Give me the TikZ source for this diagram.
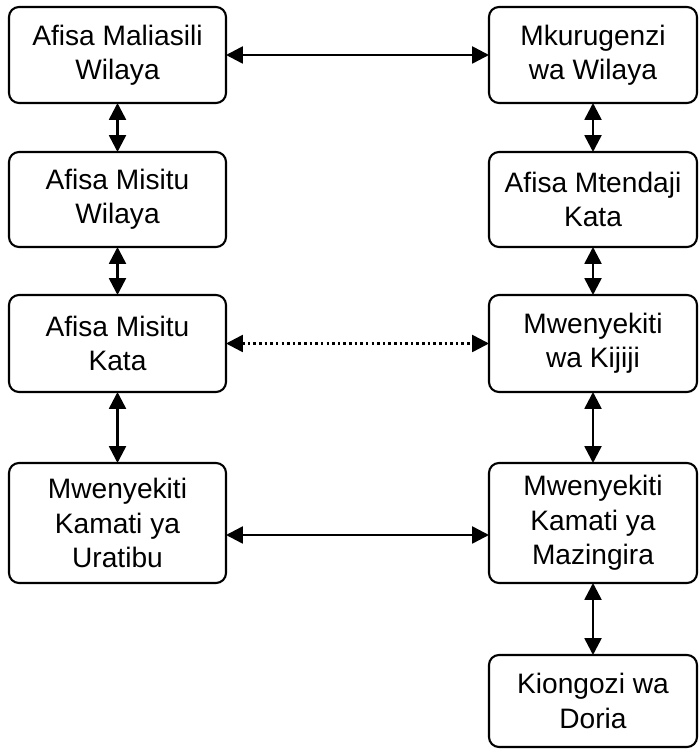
\documentclass[tikz,border=0pt]{standalone}
\usepackage{fontspec}
\setmainfont{Liberation Sans}
\usetikzlibrary{arrows.meta}
\usetikzlibrary{positioning}
\begin{document}
\begin{tikzpicture}[box/.style={draw=black,line width=1.5pt,rounded corners=0.25cm,align=center,inner sep=0pt,outer sep=0pt,font=\fontsize{20}{24.5}\selectfont},
link/.style={line width=1.8pt,{Triangle[length=0.42cm,width=0.42cm]}-{Triangle[length=0.42cm,width=0.42cm]}}]
\useasboundingbox (0,0) rectangle (17.45,18.725);
\node[box,minimum width=5.425cm,minimum height=2.4cm] (AMW) at (2.9375,17.35) {Afisa Maliasili\\Wilaya};
\node[box,minimum width=5.425cm,minimum height=2.375cm] (AMsW) at (2.9375,13.7375) {Afisa Misitu\\Wilaya};
\node[box,minimum width=5.425cm,minimum height=2.425cm] (AMK) at (2.9375,10.1375) {Afisa Misitu\\Kata};
\node[box,minimum width=5.425cm,minimum height=3.0cm] (MKU) at (2.9375,5.65) {Mwenyekiti\\Kamati ya\\Uratibu};

\node[box,minimum width=5.2cm,minimum height=2.4cm] (MWi) at (14.825,17.35) {Mkurugenzi\\wa Wilaya};
\node[box,minimum width=5.2cm,minimum height=2.375cm] (AMtK) at (14.825,13.7375) {Afisa Mtendaji\\Kata};
\node[box,minimum width=5.2cm,minimum height=2.425cm] (MKi) at (14.825,10.1375) {Mwenyekiti\\wa Kijiji};
\node[box,minimum width=5.2cm,minimum height=3.0cm] (MKM) at (14.825,5.65) {Mwenyekiti\\Kamati ya\\Mazingira};
\node[box,minimum width=5.2cm,minimum height=2.3cm] (KD) at (14.825,1.2) {Kiongozi wa\\Doria};

\draw[link] (AMW) -- (AMsW);
\draw[link] (AMsW) -- (AMK);
\draw[link] (AMK) -- (MKU);
\draw[link] (MWi) -- (AMtK);
\draw[link] (AMtK) -- (MKi);
\draw[link] (MKi) -- (MKM);
\draw[link] (MKM) -- (KD);

\draw[link] (AMW) -- (MWi);
\draw[link,dash pattern=on 1.8pt off 2.2pt] (AMK) -- (MKi);
\draw[link] ([yshift=-0.3cm]MKU.east) -- ([yshift=-0.3cm]MKM.west);
\end{tikzpicture}
\end{document}
